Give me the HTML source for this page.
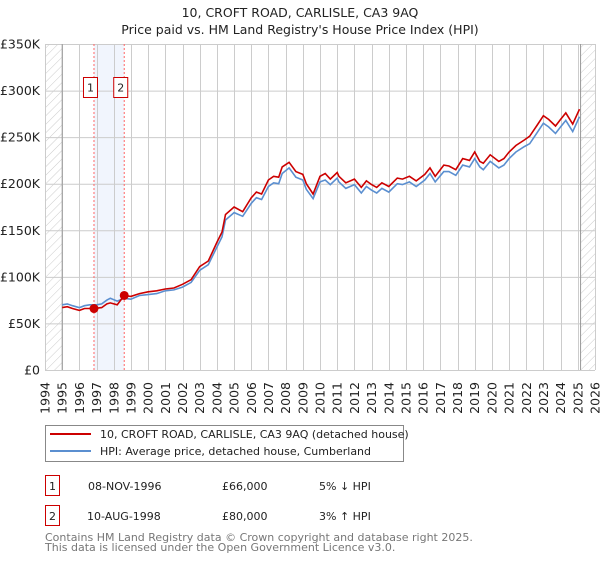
<!DOCTYPE html>
<html><head><meta charset="utf-8">
<style>
body{margin:0;background:#fff;}
svg text{font-family:"DejaVu Sans","Liberation Sans",sans-serif;}
</style></head>
<body>
<svg id="chart" width="600" height="560" xmlns="http://www.w3.org/2000/svg">
<defs>
<pattern id="hatch" width="6" height="6" patternUnits="userSpaceOnUse" patternTransform="rotate(45)">
<line x1="0" y1="0" x2="0" y2="6" stroke="#ccc" stroke-width="1"/>
</pattern>
</defs>
<text x="300" y="17" text-anchor="middle" font-size="12.5" fill="#222">10, CROFT ROAD, CARLISLE, CA3 9AQ</text>
<text x="300" y="34" text-anchor="middle" font-size="12.5" fill="#222">Price paid vs. HM Land Registry's House Price Index (HPI)</text>
<g id="grid"></g>
<g id="series"></g>
<g id="axes"></g>
<g>
<rect x="45.5" y="425.5" width="358" height="36" fill="#fff" stroke="#888"/>
<line x1="50" y1="434" x2="91" y2="434" stroke="#cc0000" stroke-width="2"/>
<text x="100" y="438" font-size="11" fill="#222">10, CROFT ROAD, CARLISLE, CA3 9AQ (detached house)</text>
<line x1="50" y1="451" x2="91" y2="451" stroke="#5b8fd0" stroke-width="2"/>
<text x="100" y="455" font-size="11" fill="#222">HPI: Average price, detached house, Cumberland</text>
</g>
<g>
<rect x="45.5" y="475.5" width="14" height="20" fill="#fff" stroke="#cc0000"/>
<text x="52.5" y="490" text-anchor="middle" font-size="11" fill="#222">1</text>
<text x="88" y="490" font-size="11" fill="#222">08-NOV-1996</text>
<text x="222" y="490" font-size="11" fill="#222">£66,000</text>
<text x="319" y="490" font-size="11" fill="#222">5% ↓ HPI</text>
<rect x="45.5" y="505.5" width="14" height="20" fill="#fff" stroke="#cc0000"/>
<text x="52.5" y="520" text-anchor="middle" font-size="11" fill="#222">2</text>
<text x="87" y="520" font-size="11" fill="#222">10-AUG-1998</text>
<text x="222" y="520" font-size="11" fill="#222">£80,000</text>
<text x="319" y="520" font-size="11" fill="#222">3% ↑ HPI</text>
</g>
<text x="45" y="541" font-size="11" fill="#777">Contains HM Land Registry data © Crown copyright and database right 2025.</text>
<text x="45" y="551" font-size="11" fill="#777">This data is licensed under the Open Government Licence v3.0.</text>
</svg>
<script>
const hpiYears=[1995,1995.3,1995.6,1996,1996.3,1996.6,1997,1997.3,1997.6,1997.8,1998.2,1998.6,1999,1999.5,2000,2000.5,2001,2001.5,2002,2002.5,2003,2003.5,2004,2004.3,2004.5,2005,2005.5,2006,2006.3,2006.6,2007,2007.3,2007.6,2007.8,2008.2,2008.6,2009,2009.2,2009.6,2010,2010.3,2010.6,2011,2011.1,2011.5,2012,2012.4,2012.7,2013,2013.3,2013.6,2014,2014.5,2014.8,2015.2,2015.6,2016.1,2016.4,2016.7,2017.2,2017.5,2017.9,2018.3,2018.7,2019,2019.3,2019.5,2019.9,2020.4,2020.7,2021,2021.4,2021.9,2022.2,2022.6,2023,2023.3,2023.7,2024,2024.3,2024.7,2025.1];
const hpiValues=[70,71,69,67,69,70,70,71,75,77,74,77,76,80,81,82,85,86,89,94,107,113,132,143,161,169,165,179,185,183,197,201,200,211,217,207,204,194,184,202,204,199,206,202,195,199,190,197,193,190,195,191,200,199,202,197,204,211,202,213,213,209,220,218,227,218,215,224,217,220,227,234,240,243,254,265,261,254,261,268,256,272,280];
const saleYears=[1995,1995.3,1995.6,1996,1996.3,1996.6,1996.85,1997.3,1997.6,1997.8,1998.2,1998.61,1999,1999.5,2000,2000.5,2001,2001.5,2002,2002.5,2003,2003.5,2004,2004.3,2004.5,2005,2005.5,2006,2006.3,2006.6,2007,2007.3,2007.6,2007.8,2008.2,2008.6,2009,2009.2,2009.6,2010,2010.3,2010.6,2011,2011.1,2011.5,2012,2012.4,2012.7,2013,2013.3,2013.6,2014,2014.5,2014.8,2015.2,2015.6,2016.1,2016.4,2016.7,2017.2,2017.5,2017.9,2018.3,2018.7,2019,2019.3,2019.5,2019.9,2020.4,2020.7,2021,2021.4,2021.9,2022.2,2022.6,2023,2023.3,2023.7,2024,2024.3,2024.7,2025.1];
const saleValues=[67,68,66,64,66,66,66,67,71,72,70,80,79,82,84,85,87,88,92,97,111,117,137,148,167,175,170,185,191,189,204,208,207,218,223,213,210,200,189,208,211,205,212,208,201,205,196,203,199,196,201,197,206,205,208,203,210,217,208,220,219,215,227,225,234,224,222,231,224,227,234,241,247,251,262,273,269,262,269,276,264,280,289];
const sales=[[1996.85,66],[1998.61,80]];
const yTicks=[0,50,100,150,200,250,300,350];
const yTickLabels=["£0","£50K","£100K","£150K","£200K","£250K","£300K","£350K"];
const xTicks=[1994,1995,1996,1997,1998,1999,2000,2001,2002,2003,2004,2005,2006,2007,2008,2009,2010,2011,2012,2013,2014,2015,2016,2017,2018,2019,2020,2021,2022,2023,2024,2025,2026];

const NS="http://www.w3.org/2000/svg";
const L=45,R=595,T=44,B=370;
const xs=y=>L+(y-1994)/(2026-1994)*(R-L);
const ys=v=>B-v/350*(B-T);
function mk(tag,attrs,parent){const e=document.createElementNS(NS,tag);for(const k in attrs)e.setAttribute(k,attrs[k]);parent.appendChild(e);return e;}
const grid=document.getElementById('grid'),series=document.getElementById('series'),axes=document.getElementById('axes');

let h1=mk('rect',{x:L,y:T,width:xs(1995)-L,height:B-T,fill:'url(#hatch)'},grid);


let h2=mk('rect',{x:xs(2025.16),y:T,width:R-xs(2025.16),height:B-T,fill:'url(#hatch)'},grid);


let sh=mk('rect',{x:xs(sales[0][0]),y:T,width:xs(sales[1][0])-xs(sales[0][0]),height:B-T,fill:'#eef3fc',opacity:0.8},grid);



yTicks.forEach((v,i)=>{
  const g=mk('line',{x1:L,x2:R,y1:ys(v)+0.5,y2:ys(v)+0.5,stroke:'#cccccc','stroke-width':1},grid);
  
  
  const t=mk('text',{x:L-5,y:ys(v)+4.5,'text-anchor':'end','font-size':12.5,fill:'#222'},axes);
  t.textContent=yTickLabels[i];
  
  
});
xTicks.forEach(y=>{
  const x=Math.round(xs(y))+0.5;
  const g=mk('line',{x1:x,x2:x,y1:T,y2:B,stroke:'#cccccc','stroke-width':1},grid);
  
  
  const t=mk('text',{x:0,y:0,'text-anchor':'end','font-size':12.5,fill:'#222',transform:`translate(${xs(y)+4.5},${B+12}) rotate(-90)`},axes);
  t.textContent=y;
  
  
});
[1995,2025.16].forEach(y=>{
  const l=mk('line',{x1:xs(y),x2:xs(y),y1:T,y2:B,stroke:'#999','stroke-width':1},grid);
  
  
});
sales.forEach(s=>{
  const l=mk('line',{x1:xs(s[0]),x2:xs(s[0]),y1:T,y2:B,stroke:'#ff6666','stroke-width':1,'stroke-dasharray':'2,2'},grid);
  
  
});
function path(xa,va){return xa.map((y,i)=>(i?'L':'M')+xs(y).toFixed(1)+','+ys(va[i]).toFixed(1)).join('');}
const hp=mk('path',{d:path(hpiYears,hpiValues),fill:'none',stroke:'#5b8fd0','stroke-width':1.6},series);


const pp=mk('path',{d:path(saleYears,saleValues),fill:'none',stroke:'#cc0000','stroke-width':1.6},series);


sales.forEach((s,i)=>{
  const c=mk('circle',{cx:xs(s[0]),cy:ys(s[1]),r:4.5,fill:'#cc0000'},series);
  
  
  const bx=xs(s[0])-11;
  const r=mk('rect',{x:bx+0.5,y:77.5,width:14,height:20,fill:'#fff',stroke:'#cc0000'},series);
  
  
  const t=mk('text',{x:bx+7.5,y:91.5,'text-anchor':'middle','font-size':11,fill:'#222'},series);
  t.textContent=String(i+1);
  
  
});
</script>
</body></html>
